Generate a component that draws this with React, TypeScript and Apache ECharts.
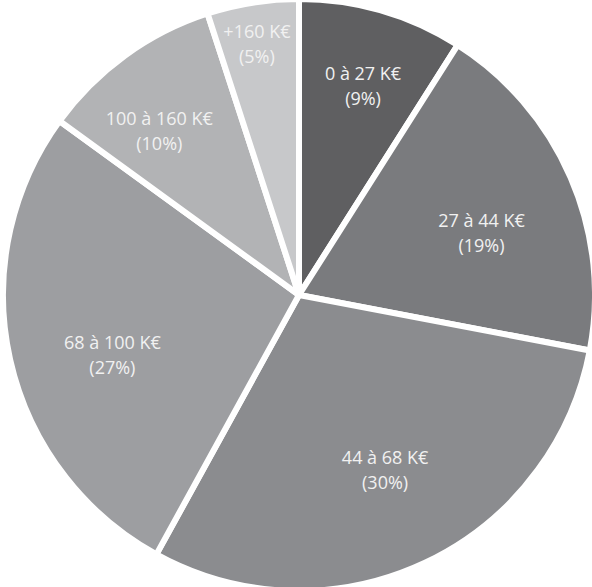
import React, { useEffect, useRef } from "react";
import * as echarts from "echarts";

const categories = ["0 à 27 K€", "27 à 44 K€", "44 à 68 K€", "68 à 100 K€", "100 à 160 K€", "+160 K€"];
const shares = [9, 19, 30, 27, 10, 5];

const sliceColors = ["#5f5f61", "#7a7b7e", "#8b8c8f", "#9d9ea1", "#b2b3b5", "#c7c8ca"];
// label placement (style): radius from centre and angular nudge in degrees
const labelRadii = [219, 193, 195, 196, 216, 255];
const labelAngleNudge = [0.8, 4.4, -1.0, -5.2, -4.3, -0.5];
const CX = 299;
const CY = 295;
const OUTER_R = 296;

export default function App() {
  const ref = useRef<HTMLDivElement>(null);
  useEffect(() => {
    document.body.style.margin = "0";
    if (!ref.current) return;
    const chart = echarts.init(ref.current, null, { renderer: "svg" });
    const total = shares.reduce((a, b) => a + b, 0);
    let cum = 0;
    const labelPos = shares.map((v, i) => {
      const mid = ((cum + v / 2) / total) * 360 + labelAngleNudge[i];
      cum += v;
      const a = (mid * Math.PI) / 180;
      return [CX + labelRadii[i] * Math.sin(a), CY - labelRadii[i] * Math.cos(a)];
    });
    const data = shares.map((v, i) => ({
      name: categories[i],
      value: v,
      itemStyle: { color: sliceColors[i] },
    }));
    chart.setOption({
      animation: false,
      series: [
        {
          type: "pie",
          center: [CX, CY],
          radius: [0, OUTER_R],
          startAngle: 90,
          clockwise: true,
          avoidLabelOverlap: false,
          itemStyle: { borderColor: "#ffffff", borderWidth: 6 },
          label: {
            show: true,
            position: "inside",
            color: "#f1f1f1",
            fontFamily: "Open Sans",
            fontSize: 18,
            lineHeight: 25,
            align: "center",
            verticalAlign: "middle",
            formatter: (p: any) => `${p.name}\n(${p.value}%)`,
          },
          labelLayout: (p: any) => ({
            x: labelPos[p.dataIndex][0],
            y: labelPos[p.dataIndex][1],
            align: "center",
            verticalAlign: "middle",
            hideOverlap: false,
          }),
          labelLine: { show: false },
          emphasis: { disabled: true },
          data,
        },
      ],
    });
    return () => chart.dispose();
  }, []);
  return <div ref={ref} style={{ width: 592, height: 587 }} />;
}
